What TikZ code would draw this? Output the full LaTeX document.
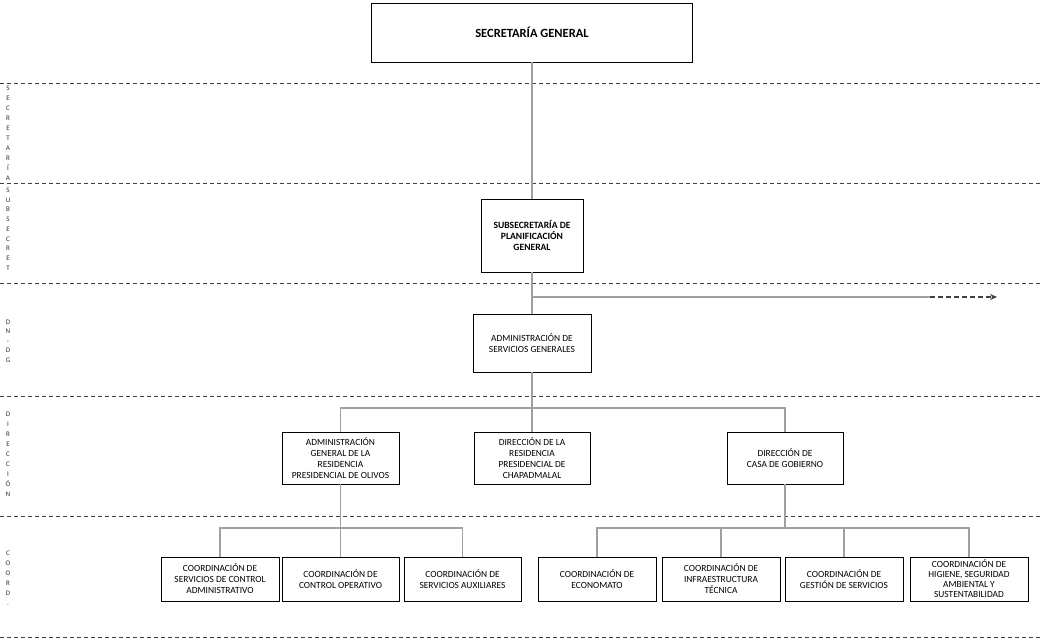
\documentclass[tikz,border=0pt]{standalone}
\usepackage{fontspec}
\setmainfont{Carlito}
\usetikzlibrary{arrows.meta,calc}
\definecolor{conn}{HTML}{A0A0A0}
\definecolor{sep}{HTML}{404040}
\definecolor{lbl}{HTML}{303030}
\tikzset{
  orgbox/.style={draw=black,line width=0.9pt,inner sep=1pt,align=center,font=\fontsize{9.4}{11}\selectfont},
  connline/.style={draw=conn,line width=1.2pt},
  sepline/.style={draw=sep,line width=1pt,dash pattern=on 4pt off 3pt},
  sidelbl/.style={align=center,text=lbl,inner sep=0pt,font=\fontsize{7}{10}\selectfont},
}
\begin{document}
\begin{tikzpicture}[x=1pt,y=-1pt]
\useasboundingbox (0,0) rectangle (1040,641);
% separators
\foreach \yy in {83,183,283,396,516,637} \draw[sepline] (0,\yy) -- (1040,\yy);
% side labels
\node[sidelbl] (l1) at (8,133) {S\\E\\C\\R\\E\\T\\A\\R\\Í\\A};
\node[sidelbl,font=\fontsize{7}{9.75}\selectfont] (l2) at (8,229) {S\\U\\B\\S\\E\\C\\R\\E\\T};
\node[sidelbl,font=\fontsize{7}{9.5}\selectfont] (l3) at (8,341) {D\\N\\-\\D\\G};
\node[sidelbl] (l4) at (8,454) {D\\I\\R\\E\\C\\C\\I\\Ó\\N};
\node[sidelbl] (l5) at (8,578) {C\\O\\O\\R\\D\\.};
% boxes
\node[orgbox,minimum width=321pt,minimum height=59pt,font=\fontsize{12.5}{14}\selectfont\bfseries] (sg) at (532,32.5) {SECRETARÍA GENERAL};
\node[orgbox,minimum width=102pt,minimum height=73pt,font=\fontsize{9.6}{11}\selectfont\bfseries] (sub) at (532,235.5) {SUBSECRETARÍA DE\\PLANIFICACIÓN\\GENERAL};
\node[orgbox,minimum width=118pt,minimum height=58pt] (asg) at (532,343) {ADMINISTRACIÓN DE\\SERVICIOS GENERALES};
\node[orgbox,minimum width=117pt,minimum height=52pt] (oliv) at (340.5,458) {ADMINISTRACIÓN\\GENERAL DE LA\\RESIDENCIA\\PRESIDENCIAL DE OLIVOS};
\node[orgbox,minimum width=116pt,minimum height=52pt] (chap) at (532,458) {DIRECCIÓN DE LA\\RESIDENCIA\\PRESIDENCIAL DE\\CHAPADMALAL};
\node[orgbox,minimum width=116pt,minimum height=52pt] (casa) at (785,458) {DIRECCIÓN DE\\CASA DE GOBIERNO};
\node[orgbox,minimum width=118pt,minimum height=44pt] (c1) at (220,579) {COORDINACIÓN DE\\SERVICIOS DE CONTROL\\ADMINISTRATIVO};
\node[orgbox,minimum width=117pt,minimum height=44pt] (c2) at (340.5,579) {COORDINACIÓN DE\\CONTROL OPERATIVO};
\node[orgbox,minimum width=117pt,minimum height=44pt] (c3) at (462.5,579) {COORDINACIÓN DE\\SERVICIOS AUXILIARES};
\node[orgbox,minimum width=118pt,minimum height=44pt] (c4) at (597,579) {COORDINACIÓN DE\\ECONOMATO};
\node[orgbox,minimum width=118pt,minimum height=44pt] (c5) at (721,579) {COORDINACIÓN DE\\INFRAESTRUCTURA\\TÉCNICA};
\node[orgbox,minimum width=118pt,minimum height=44pt] (c6) at (844,579) {COORDINACIÓN DE\\GESTIÓN DE SERVICIOS};
\node[orgbox,minimum width=118pt,minimum height=44pt,font=\fontsize{9.4}{10}\selectfont] (c7) at (969,579) {COORDINACIÓN DE\\HIGIENE, SEGURIDAD\\AMBIENTAL Y\\SUSTENTABILIDAD};
% connectors
\coordinate (br) at (532,297);
\coordinate (brA) at (930,297);
\coordinate (brB) at (997,297);
\coordinate (busD) at (532,408);
\coordinate (busO) at (340.5,528);
\coordinate (busC) at (785,528);
\draw[connline] (sg.south) -- (sub.north);
\draw[connline] (sub.south) -- (asg.north);
\draw[connline] (br) -- (brA);
\draw[draw=sep,line width=1.1pt,dash pattern=on 5pt off 3pt,-{Stealth[length=7pt,width=6pt]}] (brA) -- (brB);
\draw[connline] (asg.south) -- (busD);
\draw[connline] (oliv.north) |- (busD) -| (casa.north);
\draw[connline] (busD) -- (chap.north);
\draw[connline] (oliv.south) -- (busO);
\draw[connline] (c1.north) |- (busO) -| (c3.north);
\draw[connline] (busO) -- (c2.north);
\draw[connline] (casa.south) -- (busC);
\draw[connline] (c4.north) |- (busC) -| (c7.north);
\draw[connline] (c5.north) -- (c5.north |- busC);
\draw[connline] (c6.north) -- (c6.north |- busC);
\end{tikzpicture}
\end{document}
